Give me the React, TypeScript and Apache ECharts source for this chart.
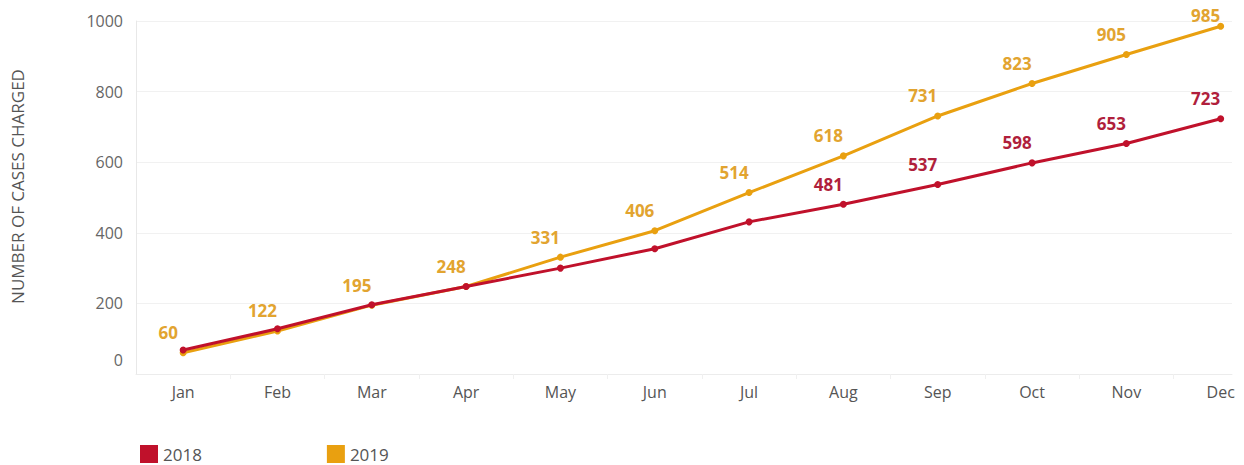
import React, { useEffect, useRef } from "react";
import * as echarts from "echarts";

const months = ["Jan", "Feb", "Mar", "Apr", "May", "Jun", "Jul", "Aug", "Sep", "Oct", "Nov", "Dec"];
const cases2018 = [68, 128, 196, 248, 300, 355, 431, 481, 537, 598, 653, 723];
const cases2019 = [60, 122, 195, 248, 331, 406, 514, 618, 731, 823, 905, 985];
// months whose 2018 value is printed on the chart
const labeled2018 = [false, false, false, false, false, false, false, true, true, true, true, true];
const yTicks = [0, 200, 400, 600, 800, 1000];

const RED = "#C0112B";
const ORANGE = "#E9A010";
const RED_LABEL = "#B01F3C";
const ORANGE_LABEL = "#E2A430";
const FONT = "Open Sans";

export default function App() {
  const ref = useRef<HTMLDivElement>(null);
  useEffect(() => {
    if (!ref.current) return;
    const chart = echarts.init(ref.current, undefined, { renderer: "svg" });
    const labelBase = {
      show: true,
      position: "top" as const,
      distance: 8,
      offset: [-15, 0],
      fontFamily: FONT,
      fontSize: 17,
      fontWeight: "bold" as const,
    };
    const d2018 = cases2018.map((v, i) => ({
      value: [i, v],
      label: { ...labelBase, show: labeled2018[i], color: RED_LABEL },
    }));
    const d2019 = cases2019.map((v, i) => ({
      value: [i, v],
      label: {
        ...labelBase,
        color: ORANGE_LABEL,
        offset: i === cases2019.length - 1 ? [-15, 9] : [-15, 0],
      },
    }));
    chart.setOption({
      animation: false,
      grid: { left: 136, right: 12, top: 21, bottom: 91 },
      legend: {
        left: 135,
        top: 440,
        icon: "rect",
        itemWidth: 18,
        itemHeight: 18,
        itemGap: 125,
        textStyle: { fontFamily: FONT, fontSize: 17, color: "#555", lineHeight: 18 },
        data: ["2018", "2019"],
      },
      xAxis: {
        type: "value",
        min: -0.5,
        max: 11.12,
        splitLine: { show: false },
        axisLine: { show: true, lineStyle: { color: "#ececec", width: 1 } },
        axisTick: {
          show: true,
          length: 5,
          lineStyle: { color: "#f0f0f0" },
          customValues: months.slice(1).map((_, i) => i + 0.5),
        },
        axisLabel: {
          customValues: months.map((_, i) => i),
          formatter: (v: number) => months[Math.round(v)] ?? "",
          fontFamily: FONT,
          fontSize: 16,
          color: "#555",
          margin: 10,
        },
      },
      yAxis: {
        type: "value",
        min: yTicks[0],
        max: yTicks[yTicks.length - 1],
        interval: 200,
        name: "NUMBER OF CASES CHARGED",
        nameLocation: "middle",
        nameGap: 110,
        nameTextStyle: { fontFamily: FONT, fontSize: 17, color: "#555", padding: [0, 0, 0, 22] },
        axisLine: { show: true, onZero: false, lineStyle: { color: "#e8e8e8" } },
        axisTick: { show: false },
        splitLine: { show: true, lineStyle: { color: "#f1f1f1" } },
        axisLabel: {
          fontFamily: FONT,
          fontSize: 16,
          color: "#666",
          margin: 13,
          formatter: (v: number) => (v === 0 ? "{z|0}" : String(v)),
          rich: { z: { fontFamily: FONT, fontSize: 16, color: "#666", padding: [0, 0, 28, 0] } },
        },
      },
      series: [
        {
          name: "2018",
          type: "line",
          data: d2018,
          color: RED,
          lineStyle: { width: 3, color: RED },
          symbol: "circle",
          symbolSize: 7,
          itemStyle: { color: RED },
          z: 3,
        },
        {
          name: "2019",
          type: "line",
          data: d2019,
          color: ORANGE,
          lineStyle: { width: 3, color: ORANGE },
          symbol: "circle",
          symbolSize: 7,
          itemStyle: { color: ORANGE },
          z: 2,
        },
      ],
    });
    return () => chart.dispose();
  }, []);
  return <div ref={ref} style={{ width: 1244, height: 465, position: "absolute", left: 0, top: 0 }} />;
}
